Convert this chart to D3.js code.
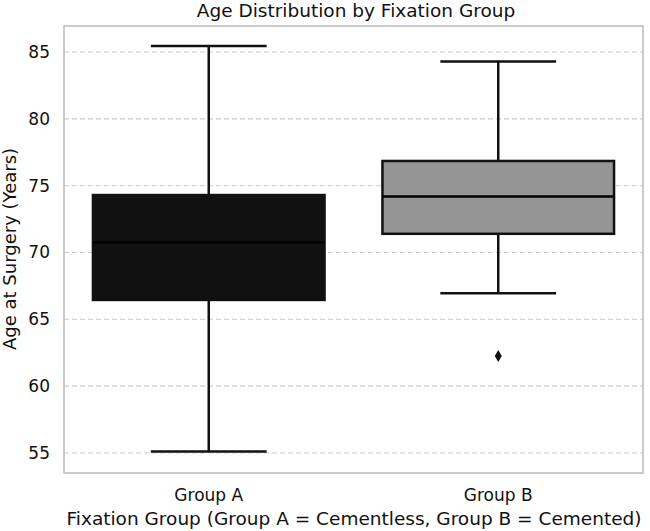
<!DOCTYPE html>
<html lang="en">
<head>
<meta charset="utf-8">
<script src="https://d3js.org/d3.v7.min.js"></script>
<style>
  body { margin: 0; background: #fff; }
  text { font-family: "DejaVu Sans", sans-serif; fill: #111; }
</style>
</head>
<body>
<div id="chart"></div>
<script>
// values
var groups = ["Group A", "Group B"];
var q1 = [66.45, 71.4];
var median = [70.75, 74.2];
var q3 = [74.3, 76.85];
var whiskerLow = [55.1, 66.95];
var whiskerHigh = [85.45, 84.3];
var fills = ["#111111", "#959595"];
var outlierGroup = ["Group B"];
var outlierValue = [62.25];
var yTicks = [55, 60, 65, 70, 75, 80, 85];

var width = 650, height = 531;
var margin = {top: 26, right: 7, bottom: 58, left: 64};

var svg = d3.select("#chart").append("svg")
    .attr("width", width)
    .attr("height", height);

var x = d3.scaleBand()
    .domain(groups)
    .range([margin.left, width - margin.right])
    .paddingInner(0)
    .paddingOuter(0);

var y = d3.scaleLinear()
    .domain([53.5, 86.95])
    .range([height - margin.bottom, margin.top]);

// grid
svg.append("g").selectAll("line")
    .data(yTicks)
    .enter().append("line")
    .attr("x1", margin.left)
    .attr("x2", width - margin.right)
    .attr("y1", function(d) { return y(d); })
    .attr("y2", function(d) { return y(d); })
    .attr("stroke", "#cccccc")
    .attr("stroke-width", 1.1)
    .attr("stroke-dasharray", "5,3");

// y tick labels
svg.append("g").selectAll("text")
    .data(yTicks)
    .enter().append("text")
    .attr("x", margin.left - 14)
    .attr("y", function(d) { return y(d); })
    .attr("dy", "0.35em")
    .attr("text-anchor", "end")
    .style("font-size", "17px")
    .text(function(d) { return d; });

// x tick labels
svg.append("g").selectAll("text")
    .data(groups)
    .enter().append("text")
    .attr("x", function(d) { return x(d) + x.bandwidth() / 2; })
    .attr("y", 501)
    .attr("text-anchor", "middle")
    .style("font-size", "17px")
    .text(function(d) { return d; });

var boxW = x.bandwidth() * 0.8;
var capW = boxW / 2;
var lineCol = "#111111";

var box = svg.append("g").selectAll("g")
    .data(groups)
    .enter().append("g");

// whiskers
box.append("line")
    .attr("x1", function(d) { return x(d) + x.bandwidth() / 2; })
    .attr("x2", function(d) { return x(d) + x.bandwidth() / 2; })
    .attr("y1", function(d, i) { return y(whiskerHigh[i]); })
    .attr("y2", function(d, i) { return y(q3[i]); })
    .attr("stroke", lineCol).attr("stroke-width", 2.5);
box.append("line")
    .attr("x1", function(d) { return x(d) + x.bandwidth() / 2; })
    .attr("x2", function(d) { return x(d) + x.bandwidth() / 2; })
    .attr("y1", function(d, i) { return y(q1[i]); })
    .attr("y2", function(d, i) { return y(whiskerLow[i]); })
    .attr("stroke", lineCol).attr("stroke-width", 2.5);

// caps
[whiskerHigh, whiskerLow].forEach(function(arr) {
  box.append("line")
      .attr("x1", function(d) { return x(d) + x.bandwidth() / 2 - capW / 2; })
      .attr("x2", function(d) { return x(d) + x.bandwidth() / 2 + capW / 2; })
      .attr("y1", function(d, i) { return y(arr[i]); })
      .attr("y2", function(d, i) { return y(arr[i]); })
      .attr("stroke", lineCol).attr("stroke-width", 2.5);
});

// boxes
box.append("rect")
    .attr("x", function(d) { return x(d) + (x.bandwidth() - boxW) / 2; })
    .attr("width", boxW)
    .attr("y", function(d, i) { return y(q3[i]); })
    .attr("height", function(d, i) { return y(q1[i]) - y(q3[i]); })
    .attr("fill", function(d, i) { return fills[i]; })
    .attr("stroke", lineCol)
    .attr("stroke-width", 2.5);

// medians
box.append("line")
    .attr("x1", function(d) { return x(d) + (x.bandwidth() - boxW) / 2; })
    .attr("x2", function(d) { return x(d) + (x.bandwidth() + boxW) / 2; })
    .attr("y1", function(d, i) { return y(median[i]); })
    .attr("y2", function(d, i) { return y(median[i]); })
    .attr("stroke", "#000000").attr("stroke-width", 2.5);

// outliers
svg.append("g").selectAll("path")
    .data(outlierValue)
    .enter().append("path")
    .attr("d", "M0,-6L3.5,0L0,6L-3.5,0Z")
    .attr("transform", function(d, i) {
      return "translate(" + (x(outlierGroup[i]) + x.bandwidth() / 2) + "," + y(d) + ")";
    })
    .attr("fill", "#111111");

// frame
svg.append("rect")
    .attr("x", margin.left)
    .attr("y", margin.top)
    .attr("width", width - margin.left - margin.right)
    .attr("height", height - margin.top - margin.bottom)
    .attr("fill", "none")
    .attr("stroke", "#bbbbbb")
    .attr("stroke-width", 1.5);

// title and axis labels
svg.append("text")
    .attr("x", 356)
    .attr("y", 17)
    .attr("text-anchor", "middle")
    .style("font-size", "18.5px")
    .text("Age Distribution by Fixation Group");

svg.append("text")
    .attr("x", 354)
    .attr("y", 525)
    .attr("text-anchor", "middle")
    .style("font-size", "18.5px")
    .text("Fixation Group (Group A = Cementless, Group B = Cemented)");

svg.append("text")
    .attr("transform", "translate(16," + 249 + ") rotate(-90)")
    .attr("text-anchor", "middle")
    .style("font-size", "18px")
    .text("Age at Surgery (Years)");
</script>
</body>
</html>
